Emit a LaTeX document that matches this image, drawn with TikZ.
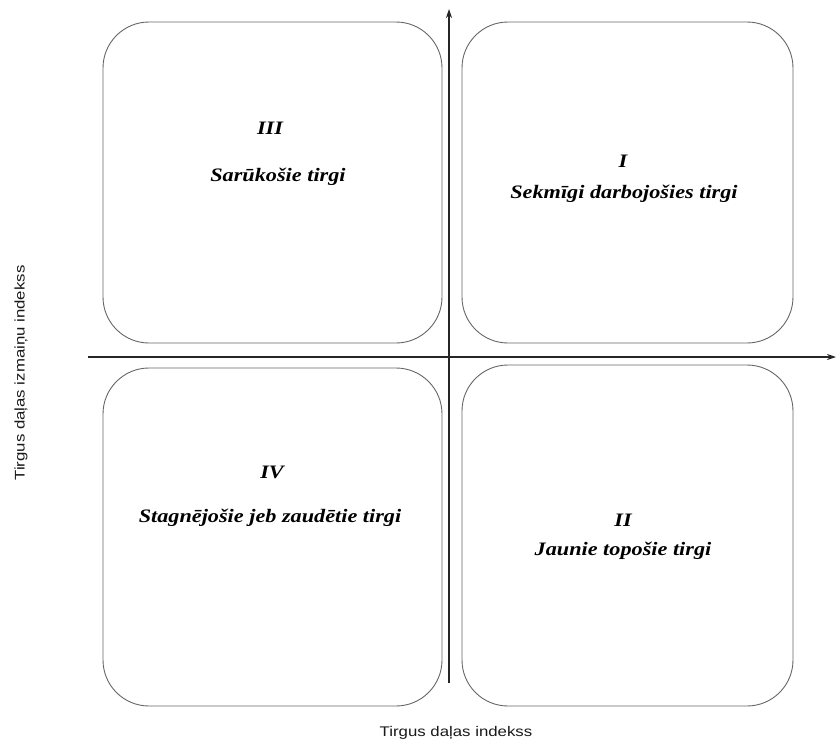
\documentclass[tikz,border=0pt]{standalone}
\usepackage{fontspec}
\setmainfont{Liberation Serif}
\setsansfont{Liberation Sans}
\newfontfamily\quadfont[FakeStretch=1.17]{Liberation Serif}
\newfontfamily\axfont[FakeStretch=1.2]{Liberation Sans}
\usetikzlibrary{arrows.meta}
\tikzset{
  quad/.style={draw=black!60, line width=0.9pt, rounded corners=46pt, inner sep=0pt},
  axis/.style={draw=black!85, line width=1.2pt, -{Stealth[length=9pt,width=6pt]}},
  qnum/.style={font=\quadfont\fontsize{19}{22}\selectfont\bfseries\itshape},
  qtext/.style={font=\quadfont\fontsize{19}{22}\selectfont\bfseries\itshape},
  axlabel/.style={font=\axfont\fontsize{14}{16}\selectfont, text=black!90}
}
\begin{document}
\begin{tikzpicture}[x=1pt,y=-1pt]
\useasboundingbox (0,0) rectangle (836,747);
% quadrant boxes
\node[quad, minimum width=339pt, minimum height=321pt] (q3) at (272.5,182.5) {};
\node[quad, minimum width=331pt, minimum height=321pt] (q1) at (627.5,182.5) {};
\node[quad, minimum width=339pt, minimum height=338pt] (q4) at (272.5,537) {};
\node[quad, minimum width=331pt, minimum height=341pt] (q2) at (627.5,535.5) {};
% axes
\coordinate (ybot) at (449,683);
\coordinate (ytop) at (449,9);
\coordinate (xleft) at (88,357);
\coordinate (xright) at (836,357);
\draw[axis] (ybot) -- (ytop);
\draw[axis] (xleft) -- (xright);
% texts
\node[qnum] (n3) at (270,128) {III};
\node[qtext] (t3) at (278,177) {Sarūkošie tirgi};
\node[qnum] (n1) at (623,161) {I};
\node[qtext] (t1) at (624,194) {Sekmīgi darbojošies tirgi};
\node[qnum] (n4) at (272,472) {IV};
\node[qtext] (t4) at (270,518) {Stagnējošie jeb zaudētie tirgi};
\node[qnum] (n2) at (623,520) {II};
\node[qtext] (t2) at (623,551) {Jaunie topošie tirgi};
% axis labels
\node[axlabel] (xl) at (456,733) {Tirgus daļas indekss};
\node[axlabel, rotate=90] (yl) at (21,373) {Tirgus daļas izmaiņu indekss};
\end{tikzpicture}
\end{document}
